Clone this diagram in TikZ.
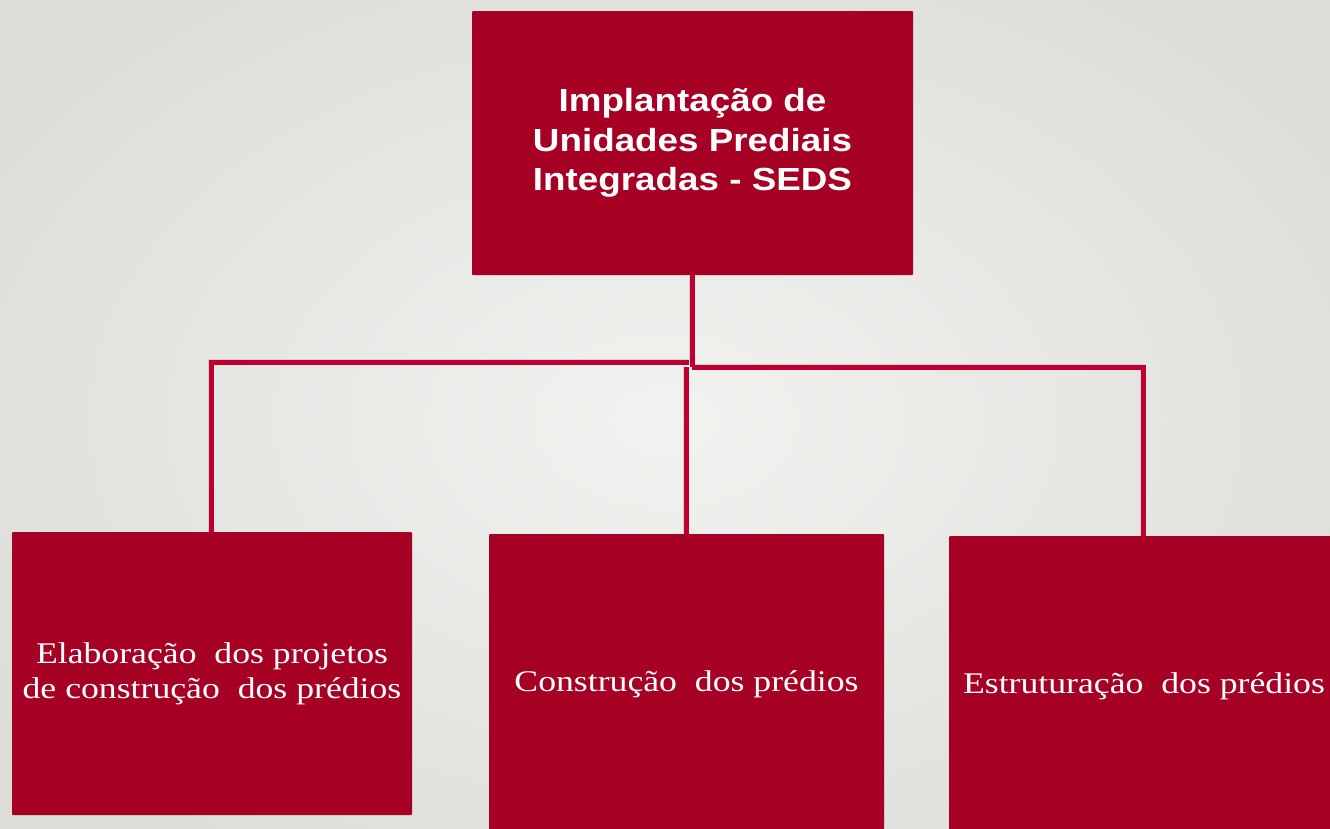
\documentclass[tikz,border=0pt]{standalone}
\usepackage{fontspec}
\setmainfont{Liberation Serif}
\newfontfamily\headfont{Liberation Sans}
\definecolor{boxred}{HTML}{A60024}
\definecolor{linered}{HTML}{BE0030}
\definecolor{bgin}{HTML}{F2F2F0}
\definecolor{bgout}{HTML}{DCDCD8}
\tikzset{
  box/.style={fill=boxred, draw=none, inner sep=0pt, text=white, align=center, rounded corners=1pt},
  headtext/.style={font=\headfont\bfseries\fontsize{32}{39.5}\selectfont},
  subtext/.style={font=\fontsize{30}{35}\selectfont},
  conn/.style={draw=linered, line width=5pt, line join=miter,
    preaction={draw=black!18, line width=6.6pt}},
}
\newcommand{\wide}[1]{\scalebox{1.15}[1]{#1}}
\newcommand{\widesub}[1]{\scalebox{1.19}[1]{#1}}
\begin{document}
\begin{tikzpicture}[x=1pt,y=-1pt]
\useasboundingbox (0,0) rectangle (1330,828);
\clip (0,0) rectangle (1330,828);
\shade[inner color=bgin, outer color=bgout] (-150,-120) rectangle (1480,960);
% boxes
\node[box, headtext, minimum width=441pt, minimum height=264pt] (top) at (692.5,143)
  {\wide{Implantação de}\\\wide{Unidades Prediais}\\\wide{Integradas - SEDS}};
\node[box, subtext, minimum width=400pt, minimum height=283pt] (left) at (212,673.5)
  {\widesub{Elaboração\ \ dos projetos}\\\widesub{de construção\ \ dos prédios}};
\node[box, subtext, minimum width=395pt, minimum height=300pt] (mid) at (686.5,684)
  {\widesub{Construção\ \ dos prédios}};
\node[box, subtext, minimum width=390pt, minimum height=300pt] (right) at (1144,686)
  {\widesub{Estruturação\ \ dos prédios}};
% junction coordinates
\coordinate (jt) at (692,367);
\coordinate (jl) at (692,362);
\coordinate (cl) at (211,362);
\coordinate (cr) at (1143,367);
\coordinate (cm) at (686,367);
% connectors
\draw[conn] (cl |- left.north) -- (cl) -- (jl);
\draw[conn] (jt) -- (cr) -- (cr |- right.north);
\draw[conn] (cm) -- (cm |- mid.north);
\draw[conn] (top.south -| jt) -- (jt);
\end{tikzpicture}
\end{document}
